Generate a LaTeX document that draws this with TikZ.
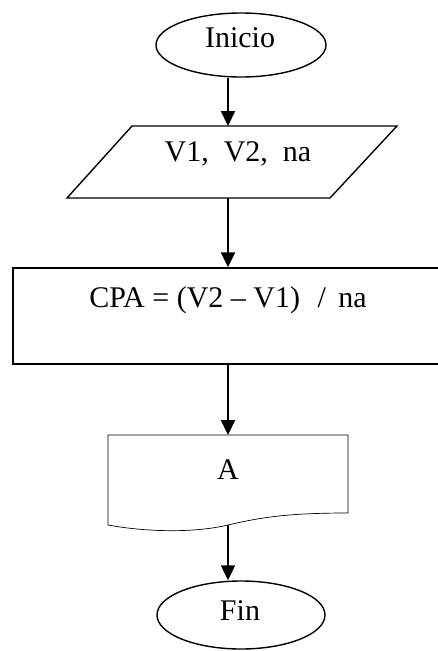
\documentclass[tikz,border=0pt]{standalone}
\usepackage{fontspec}
\setmainfont{Liberation Serif}
\usetikzlibrary{shapes.geometric,arrows.meta}
\begin{document}
\begin{tikzpicture}[x=1pt,y=-1pt,
  outl/.style={draw,line width=1.4pt},
  thinl/.style={draw,line width=0.7pt},
  term/.style={outl,ellipse,inner sep=0pt},
  txt/.style={inner sep=0pt,font=\fontsize{30}{32}\selectfont},
  arr/.style={line width=2.2pt,-{Triangle[length=15pt,width=14pt]}}]
\useasboundingbox (0,0) rectangle (438,651);
\clip (0,0) rectangle (438,651);
\coordinate (sp) at (228,0);
% Inicio
\node[term,minimum width=170pt,minimum height=64pt] (ini) at (241,45) {};
\node[txt] (tini) at (240,38) {Inicio};
% input parallelogram
\draw[outl] (132,126) coordinate (pTL) -- (397,126) -- (330,198) -- (67,198) coordinate (pBL) -- cycle;
\coordinate (partop) at (228,126);
\coordinate (parbot) at (228,198);
\node[txt] (tpar) at (238,154) {V1,\ \ V2,\ \ na};
% process box
\node[outl,rectangle,minimum width=432pt,minimum height=96pt,inner sep=0pt] (calc) at (229,316) {};
\node[txt] (tcalc) at (228,300) {CPA = (V2 – V1)\hspace{10pt} /\hspace{5pt} na};
% document
\draw[thinl] (108,435) -- (348,435) -- (348,513)
  .. controls (290,513) and (262,517) .. (228,525) coordinate (docbot)
  .. controls (190,534) and (140,531) .. (108,525) -- cycle;
\coordinate (doctop) at (228,435);
\node[txt] (tdoc) at (228,470) {A};
% Fin
\node[term,minimum width=168pt,minimum height=68pt] (fin) at (241,615) {};
\node[txt] (tfin) at (240,611) {Fin};
% arrows
\draw[arr] (ini.south -| sp) -- (partop);
\draw[arr] (parbot) -- (calc.north -| sp);
\draw[arr] (calc.south -| sp) -- (doctop);
\draw[arr] (docbot) -- (fin.north -| sp);
\end{tikzpicture}
\end{document}
